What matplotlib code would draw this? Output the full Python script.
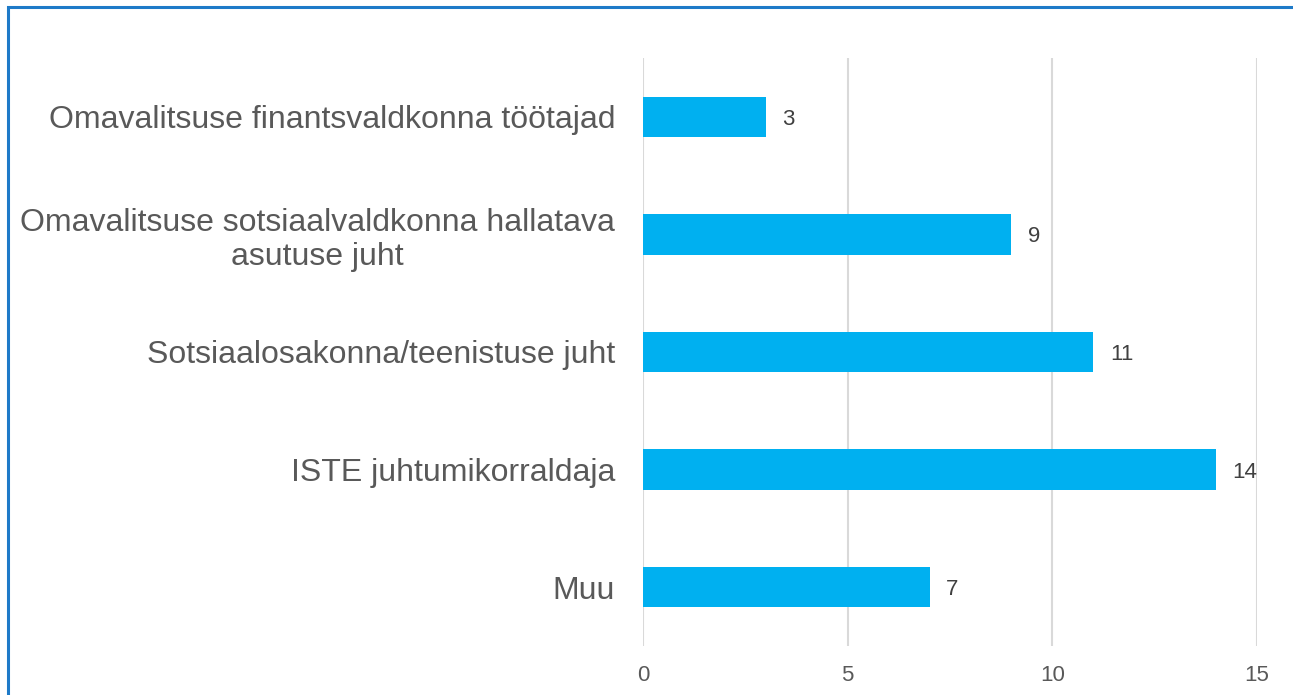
import matplotlib.pyplot as plt
from matplotlib.patches import Rectangle

categories = ["Omavalitsuse finantsvaldkonna töötajad",
              "Omavalitsuse sotsiaalvaldkonna hallatava\nasutuse juht",
              "Sotsiaalosakonna/teenistuse juht",
              "ISTE juhtumikorraldaja",
              "Muu"]
values = [3, 9, 11, 14, 7]
xticks = [0, 5, 10, 15]

plt.rcParams['font.family'] = ['Liberation Sans', 'DejaVu Sans']

fig = plt.figure(figsize=(12.93, 6.95), dpi=100)
ax = fig.add_axes([643 / 1293, 49 / 695, 614 / 1293, 588 / 695])

ypos = list(range(len(categories)))[::-1]
ax.barh(ypos, values, height=0.345, color='#00B0F0', zorder=3)
for y, v in zip(ypos, values):
    ax.annotate(str(v), (v, y), xytext=(12, 0), textcoords='offset points',
                ha='left', va='center_baseline', fontsize=16, color='#404040')

ax.set_xlim(0, 15)
ax.set_ylim(-0.5, 4.5)
ax.set_xticks(xticks)
ax.set_yticks(ypos)
ax.set_yticklabels(categories, fontsize=23, color='#595959',
                   multialignment='center')
ax.tick_params(axis='y', length=0, pad=20)
ax.tick_params(axis='x', length=0, pad=14, labelsize=16, labelcolor='#595959')
ax.grid(axis='x', color='#D9D9D9', linewidth=1.5, zorder=0)
for s in ax.spines.values():
    s.set_visible(False)

fig.patches.append(Rectangle((8 / 1293, -0.1), 1.2, (695 - 7) / 695 + 0.1,
                             transform=fig.transFigure, fill=False,
                             edgecolor='#1E7AC8', linewidth=2.2))

fig.savefig('out.png', dpi=100)
